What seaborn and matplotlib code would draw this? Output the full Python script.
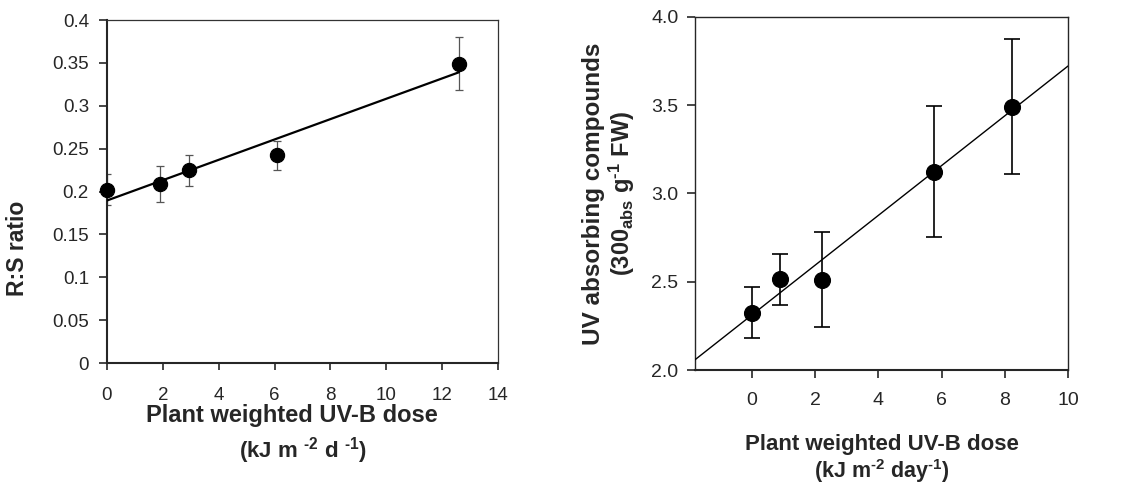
import numpy as np
import pandas as pd
import matplotlib
matplotlib.use("Agg")
import matplotlib.pyplot as plt
import seaborn as sns

sns.set_style("ticks")
plt.rcParams['font.family'] = ['Liberation Sans', 'DejaVu Sans']
# all math pieces sit inside bold labels, so make mathtext bold Liberation Sans
plt.rcParams['mathtext.fontset'] = 'custom'
plt.rcParams['mathtext.rm'] = 'Liberation Sans:bold'
plt.rcParams['mathtext.it'] = 'Liberation Sans:bold'
plt.rcParams['mathtext.bf'] = 'Liberation Sans:bold'
plt.rcParams['mathtext.default'] = 'rm'

# Left panel: root:shoot ratio vs UV-B dose
rs_dose = [0.0, 1.9, 2.95, 6.1, 12.6]
rs_ratio = [0.202, 0.209, 0.225, 0.242, 0.349]
rs_err = [0.018, 0.021, 0.018, 0.017, 0.031]

# Right panel: UV absorbing compounds vs UV-B dose
uv_dose = [0.0, 0.9, 2.2, 5.75, 8.22]
uv_comp = [2.325, 2.515, 2.512, 3.124, 3.492]
uv_err = [0.143, 0.144, 0.27, 0.372, 0.382]

left_df = pd.DataFrame({'dose': rs_dose, 'ratio': rs_ratio, 'err': rs_err})
right_df = pd.DataFrame({'dose': uv_dose, 'comp': uv_comp, 'err': uv_err})

fig = plt.figure(figsize=(11.37, 4.88), dpi=100)
ax1 = fig.add_axes([0.0941, 0.2561, 0.3439, 0.7029])
ax2 = fig.add_axes([0.6113, 0.2418, 0.3281, 0.7234])

# ---- left panel ----
ax1.set_xlim(0, 14)
ax1.set_ylim(0, 0.4)
ax1.errorbar(left_df['dose'], left_df['ratio'], yerr=left_df['err'], fmt='none',
             ecolor='#555555', elinewidth=0.9, capsize=3, capthick=0.9, zorder=2)
sns.regplot(data=left_df, x='dose', y='ratio', ax=ax1, scatter=False, ci=None,
            line_kws=dict(color='black', lw=1.6, zorder=3))
sns.scatterplot(data=left_df, x='dose', y='ratio', ax=ax1, color='black', s=105,
                edgecolor='black', zorder=4, clip_on=False)
ax1.set_xticks(np.arange(0, 15, 2))
ax1.set_yticks(np.arange(0, 0.41, 0.05))
ax1.set_yticklabels([f"{v:g}" for v in np.round(np.arange(0, 0.41, 0.05), 2)])
ax1.tick_params(axis='x', length=5, width=1.2, pad=12, labelsize=13.5)
ax1.tick_params(axis='y', length=6, width=1.2, pad=7, labelsize=13.5)
for s in ['left', 'bottom']:
    ax1.spines[s].set_linewidth(1.5)
for s in ['top', 'right']:
    ax1.spines[s].set_visible(True)
    ax1.spines[s].set_linewidth(0.9)
    ax1.spines[s].set_color('#333333')
ax1.set_xlabel('')
ax1.set_ylabel('')
ax1.text(0.473, -0.152, 'Plant weighted UV-B dose', transform=ax1.transAxes,
         ha='center', va='center', fontsize=17, fontweight='bold')
ax1.text(0.5, -0.254, r'(kJ m $^{\text{-2}}$ d $^{\text{-1}}$)', transform=ax1.transAxes,
         ha='center', va='center', fontsize=16, fontweight='bold')
ax1.text(-0.228, 0.335, 'R:S ratio', transform=ax1.transAxes, rotation=90,
         ha='center', va='center', fontsize=16.5, fontweight='bold')

# ---- right panel ----
ax2.set_xlim(-1.8, 10)
ax2.set_ylim(2.0, 4.0)
ax2.errorbar(right_df['dose'], right_df['comp'], yerr=right_df['err'], fmt='none',
             ecolor='black', elinewidth=1.2, capsize=5.5, capthick=1.2, zorder=2)
sns.regplot(data=right_df, x='dose', y='comp', ax=ax2, scatter=False, ci=None,
            truncate=False, line_kws=dict(color='black', lw=1.0, zorder=3))
sns.scatterplot(data=right_df, x='dose', y='comp', ax=ax2, color='black', s=130,
                edgecolor='black', zorder=4)
ax2.set_xlim(-1.8, 10)
ax2.set_xticks(np.arange(0, 11, 2))
ax2.set_yticks(np.arange(2.0, 4.01, 0.5))
ax2.set_yticklabels([f"{v:.1f}" for v in np.arange(2.0, 4.01, 0.5)])
ax2.tick_params(axis='x', length=6, width=1.2, pad=10, labelsize=14)
ax2.tick_params(axis='y', length=6, width=1.2, pad=6, labelsize=14)
for s in ['left', 'bottom', 'top', 'right']:
    ax2.spines[s].set_visible(True)
    ax2.spines[s].set_linewidth(1.0)
ax2.spines['bottom'].set_linewidth(1.5)
ax2.set_xlabel('')
ax2.set_ylabel('')
ax2.text(0.5, -0.21, 'Plant weighted UV-B dose', transform=ax2.transAxes,
         ha='center', va='center', fontsize=16, fontweight='bold')
ax2.text(0.5, -0.285, r'(kJ m$^{\text{-2}}$ day$^{\text{-1}}$)', transform=ax2.transAxes,
         ha='center', va='center', fontsize=15.5, fontweight='bold')
ax2.text(-0.273, 0.5, 'UV absorbing compounds', transform=ax2.transAxes,
         rotation=90, ha='center', va='center', fontsize=17.5, fontweight='bold')
ax2.text(-0.196, 0.5, r'(300$_{\text{abs}}$ g$^{\text{-1}}$ FW)', transform=ax2.transAxes,
         rotation=90, ha='center', va='center', fontsize=17, fontweight='bold')

fig.savefig('out.png', dpi=100)
